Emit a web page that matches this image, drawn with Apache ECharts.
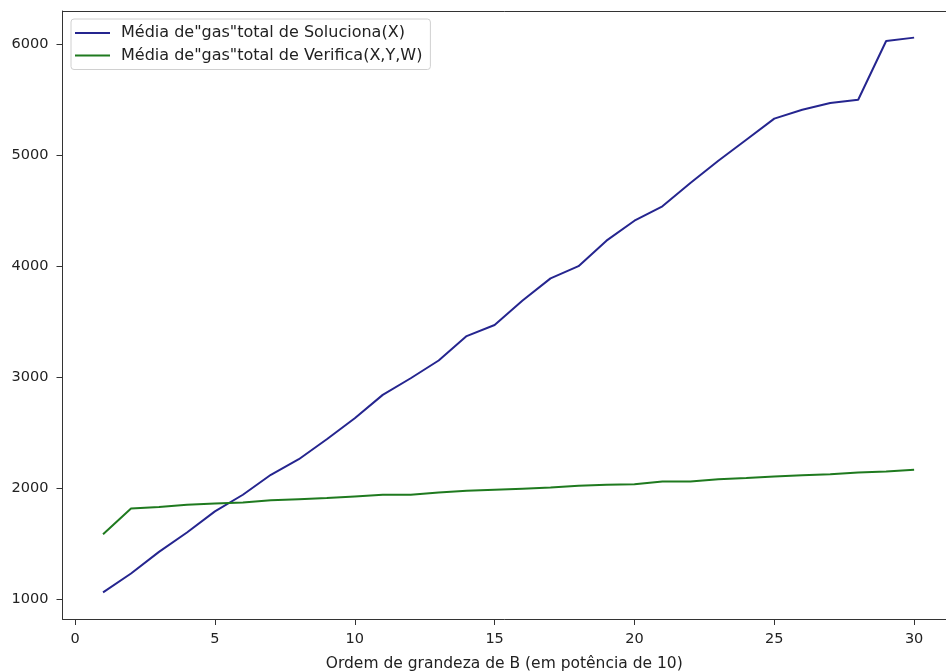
<!DOCTYPE html>
<html>
<head>
<meta charset="utf-8">
<script src="https://cdn.jsdelivr.net/npm/echarts@6/dist/echarts.min.js"></script>
<style>
html,body{margin:0;padding:0;background:#fff;overflow:hidden;}
#chart{width:946px;height:672px;}
</style>
</head>
<body>
<div id="chart"></div>
<script>
const xValues = [1,2,3,4,5,6,7,8,9,10,11,12,13,14,15,16,17,18,19,20,21,22,23,24,25,26,27,28,29,30];
const solucionaGas = [1060,1230,1425,1600,1790,1940,2120,2260,2440,2630,2840,2990,3150,3370,3470,3690,3890,4000,4230,4410,4540,4750,4950,5140,5330,5410,5470,5500,6030,6060];
const verificaGas = [1584,1815,1830,1850,1860,1870,1890,1900,1910,1925,1940,1940,1960,1975,1985,1995,2005,2020,2030,2035,2060,2060,2080,2090,2105,2115,2125,2140,2150,2165];
const xTicks = [0,5,10,15,20,25,30];
const yTicks = [1000,2000,3000,4000,5000,6000];
const seriesNames = ['Média de"gas"total de Soluciona(X)', 'Média de"gas"total de Verifica(X,Y,W)'];
const xLabel = 'Ordem de grandeza de B (em potência de 10)';

const chart = echarts.init(document.getElementById('chart'), null, {renderer:'canvas'});
const font = 'DejaVu Sans';
const axisColor = '#333';
const textColor = '#222';
const xMin = -0.45, xMax = 31.14;
chart.setOption({
  animation: false,
  backgroundColor: '#fff',
  grid: {left: 62.5, right: 0, top: 11, bottom: 53, containLabel: false, outerBoundsMode: 'none', show: false},
  legend: {
    orient: 'vertical', left: 71, top: 19,
    backgroundColor: 'rgba(255,255,255,0.85)', borderColor: '#d0d0d0', borderWidth: 1, borderRadius: 3,
    padding: [6, 8, 6, 4], itemGap: 6.5, itemWidth: 35, itemHeight: 2,
    icon: 'rect',
    textStyle: {fontFamily: font, fontSize: 16, lineHeight: 16, color: textColor, padding: [0, 0, 0, 6]},
    data: seriesNames
  },
  xAxis: [{
    type: 'value', min: xMin, max: xMax,
    name: xLabel, nameLocation: 'middle', nameGap: 37,
    nameTextStyle: {fontFamily: font, fontSize: 15.5, color: textColor},
    axisLine: {show: true, onZero: false, lineStyle: {color: axisColor, width: 1}},
    axisTick: {show: true, length: 6, customValues: xTicks, lineStyle: {color: axisColor}},
    axisLabel: {customValues: xTicks, fontFamily: font, fontSize: 14.5, color: textColor, margin: 13},
    splitLine: {show: false}
  }, {
    type: 'value', min: xMin, max: xMax, position: 'top',
    axisLine: {show: true, onZero: false, lineStyle: {color: axisColor, width: 1}},
    axisTick: {show: false}, axisLabel: {show: false}, splitLine: {show: false}
  }],
  yAxis: {
    type: 'value', min: 820, max: 6300,
    axisLine: {show: true, onZero: false, lineStyle: {color: axisColor, width: 1}},
    axisTick: {show: true, length: 6, customValues: yTicks, lineStyle: {color: axisColor}},
    axisLabel: {customValues: yTicks, fontFamily: font, fontSize: 14.5, color: textColor, margin: 14, formatter: v => String(v)},
    splitLine: {show: false}
  },
  series: [
    {name: seriesNames[0], type: 'line', xAxisIndex: 0, data: xValues.map((x,i)=>[x, solucionaGas[i]]), showSymbol: false, symbol: 'none', lineStyle: {color: '#25258f', width: 2}, itemStyle: {color: '#25258f'}},
    {name: seriesNames[1], type: 'line', xAxisIndex: 0, data: xValues.map((x,i)=>[x, verificaGas[i]]), showSymbol: false, symbol: 'none', lineStyle: {color: '#1f7a1f', width: 2}, itemStyle: {color: '#1f7a1f'}}
  ]
});
</script>
</body>
</html>
